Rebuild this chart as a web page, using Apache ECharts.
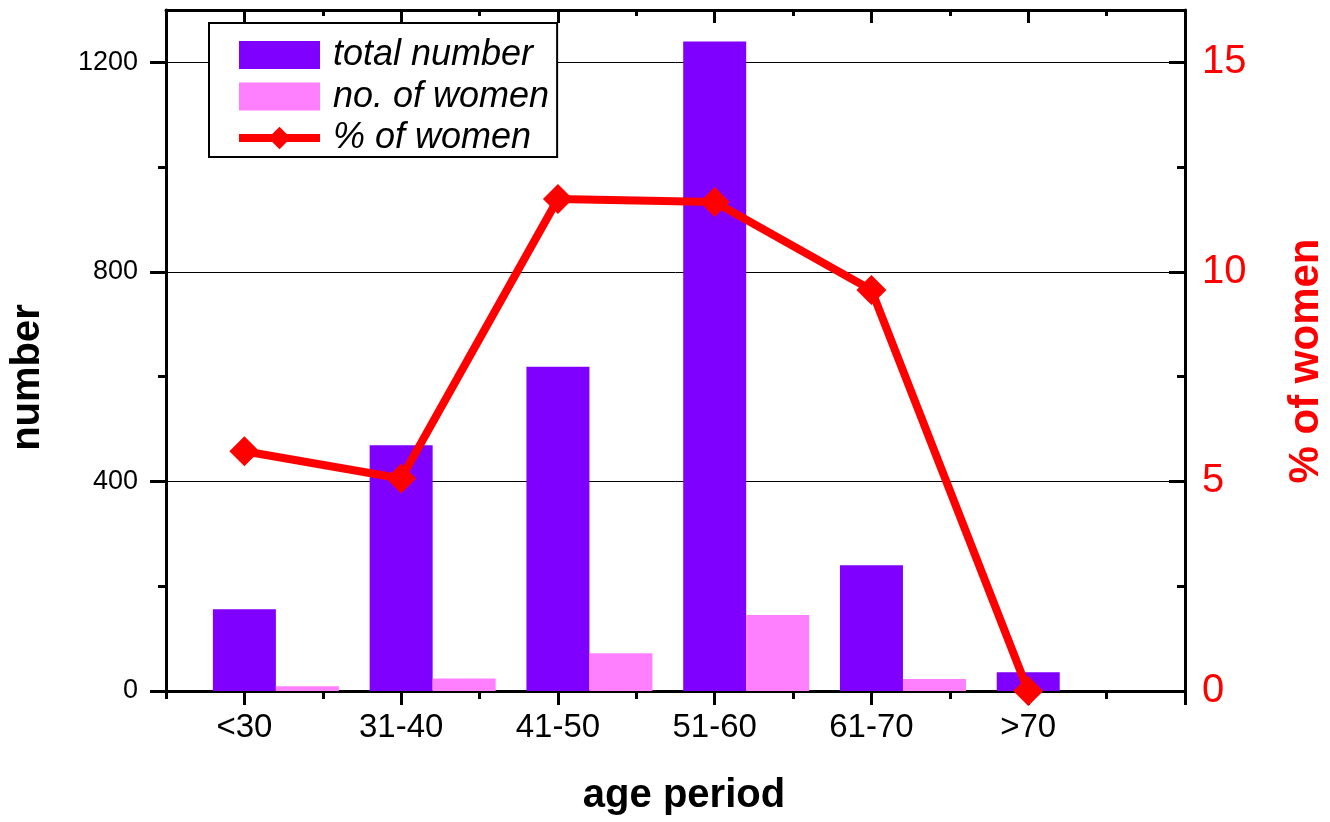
<!DOCTYPE html>
<html>
<head>
<meta charset="utf-8">
<script src="https://cdn.jsdelivr.net/npm/echarts@6/dist/echarts.min.js"></script>
<style>
html,body{margin:0;padding:0;background:#fff;}
#chart{width:1330px;height:822px;}
</style>
</head>
<body>
<div id="chart"></div>
<script>
// ---- data ----
const categories = ['<30', '31-40', '41-50', '51-60', '61-70', '>70'];
const totalNumber = [156, 469, 619, 1240, 240, 36];
const womenNumber = [9, 24, 72, 145, 23, 0];
const womenPercent = [5.72, 5.07, 11.74, 11.67, 9.57, 0];
const leftTicks = [0, 400, 800, 1200];
const leftMinorTicks = [200, 600, 1000];
const rightTicks = [0, 5, 10, 15];
const rightMinorTicks = [2.5, 7.5, 12.5];

const FONT = "'Liberation Sans', Arial, sans-serif";
const xPos = categories.map((c, i) => i + 1);
const xMajor = xPos.concat([categories.length + 1]);
const xMinor = [0.5].concat(xPos.map(v => v + 0.5));
const X_MIN = 0.5, X_MAX = categories.length + 1;
const LEFT_MAX = 1300, RIGHT_MAX = 16.25;

const chart = echarts.init(document.getElementById('chart'));

const option = {
  backgroundColor: '#ffffff',
  animation: false,
  grid: { left: 166, right: 145, top: 10, bottom: 131, containLabel: false, outerBoundsMode: 'none' },
  legend: {
    orient: 'vertical',
    left: 209, top: 23,
    data: [
      { name: 'total number', icon: 'rect' },
      { name: 'no. of women', icon: 'rect' },
      { name: '% of women', lineStyle: { width: 8, color: '#ff0000' }, itemStyle: { color: '#ff0000' } }
    ],
    borderColor: '#000', borderWidth: 2,
    padding: [14, 8, 1, 26],
    itemWidth: 81, itemHeight: 28, itemGap: 5.5,
    backgroundColor: '#fff',
    textStyle: { fontFamily: FONT, fontStyle: 'italic', fontSize: 36, lineHeight: 36, color: '#000', padding: [0, 0, 0, 8] }
  },
  xAxis: [
    { // bottom main
      type: 'value', min: X_MIN, max: X_MAX, position: 'bottom',
      name: 'age period', nameLocation: 'middle', nameGap: 85,
      nameTextStyle: { fontFamily: FONT, fontWeight: 'bold', fontSize: 40, color: '#000', padding: [0, 0, 0, 17] },
      axisLine: { show: true, onZero: false, lineStyle: { color: '#000', width: 3 } },
      axisTick: { show: true, inside: false, length: 14, lineStyle: { color: '#000', width: 3 }, customValues: xMajor },
      axisLabel: { show: true, customValues: xPos, margin: 20, fontFamily: FONT, fontSize: 33, color: '#000',
        formatter: v => categories[Math.round(v) - 1] || '' },
      splitLine: { show: false }
    },
    { // bottom minor
      type: 'value', min: X_MIN, max: X_MAX, position: 'bottom',
      axisLine: { show: false, onZero: false },
      axisTick: { show: true, inside: false, length: 8, lineStyle: { color: '#000', width: 3 }, customValues: xMinor },
      axisLabel: { show: false }, splitLine: { show: false }
    },
    { // top major
      type: 'value', min: X_MIN, max: X_MAX, position: 'top',
      axisLine: { show: true, onZero: false, lineStyle: { color: '#000', width: 3 } },
      axisTick: { show: true, inside: true, length: 13, lineStyle: { color: '#000', width: 3 }, customValues: xMajor },
      axisLabel: { show: false }, splitLine: { show: false }
    },
    { // top minor
      type: 'value', min: X_MIN, max: X_MAX, position: 'top',
      axisLine: { show: false, onZero: false },
      axisTick: { show: true, inside: true, length: 6, lineStyle: { color: '#000', width: 3 }, customValues: xMinor },
      axisLabel: { show: false }, splitLine: { show: false }
    }
  ],
  yAxis: [
    { // left main
      type: 'value', min: 0, max: LEFT_MAX, interval: 400, position: 'left',
      name: 'number', nameLocation: 'middle', nameGap: 118, nameRotate: 90,
      nameTextStyle: { fontFamily: FONT, fontWeight: 'bold', fontSize: 40, color: '#000', padding: [0, 54, 0, 0] },
      axisLine: { show: true, onZero: false, lineStyle: { color: '#000', width: 3 } },
      axisTick: { show: true, inside: false, length: 16, lineStyle: { color: '#000', width: 3 }, customValues: leftTicks },
      axisLabel: { show: true, customValues: leftTicks, margin: 28, fontFamily: FONT, fontSize: 27, color: '#000',
        formatter: v => String(v) },
      splitLine: { show: true, lineStyle: { color: '#000', width: 1 } }
    },
    { // right main
      type: 'value', min: 0, max: RIGHT_MAX, position: 'right',
      name: '% of women', nameLocation: 'middle', nameGap: 100, nameRotate: 90,
      nameTextStyle: { fontFamily: FONT, fontWeight: 'bold', fontSize: 42, color: '#ff0000', padding: [0, 21, 0, 0] },
      axisLine: { show: true, onZero: false, lineStyle: { color: '#000', width: 3 } },
      axisTick: { show: true, inside: true, length: 16, lineStyle: { color: '#000', width: 3 }, customValues: rightTicks },
      axisLabel: { show: true, customValues: rightTicks, margin: 17, fontFamily: FONT, fontSize: 40, color: '#ff0000',
        formatter: v => String(v) },
      splitLine: { show: false }
    },
    { // left minor
      type: 'value', min: 0, max: LEFT_MAX, position: 'left',
      axisLine: { show: false, onZero: false },
      axisTick: { show: true, inside: false, length: 8, lineStyle: { color: '#000', width: 3 }, customValues: leftMinorTicks },
      axisLabel: { show: false }, splitLine: { show: false }
    },
    { // right minor
      type: 'value', min: 0, max: RIGHT_MAX, position: 'right',
      axisLine: { show: false, onZero: false },
      axisTick: { show: true, inside: true, length: 8, lineStyle: { color: '#000', width: 3 }, customValues: rightMinorTicks },
      axisLabel: { show: false }, splitLine: { show: false }
    }
  ],
  series: [
    { // invisible spacer so the total bar sits centred on its tick
      name: '_spacer', type: 'bar', xAxisIndex: 0, yAxisIndex: 0,
      barWidth: 63, barGap: '0%', silent: true,
      itemStyle: { color: 'rgba(0,0,0,0)' },
      data: xPos.map(x => [x, 0])
    },
    {
      name: 'total number', type: 'bar', xAxisIndex: 0, yAxisIndex: 0,
      barWidth: 63, barGap: '0%',
      itemStyle: { color: '#8000ff' },
      data: xPos.map((x, i) => [x, totalNumber[i]])
    },
    {
      name: 'no. of women', type: 'bar', xAxisIndex: 0, yAxisIndex: 0,
      barWidth: 63, barGap: '0%',
      itemStyle: { color: '#ff80ff' },
      data: xPos.map((x, i) => [x, womenNumber[i]])
    },
    {
      name: '% of women', type: 'line', xAxisIndex: 0, yAxisIndex: 1,
      symbol: 'diamond', symbolSize: 30, z: 5,
      lineStyle: { color: '#ff0000', width: 8 },
      itemStyle: { color: '#ff0000' },
      data: xPos.map((x, i) => [x, womenPercent[i]])
    }
  ]
};
chart.setOption(option);
</script>
</body>
</html>
